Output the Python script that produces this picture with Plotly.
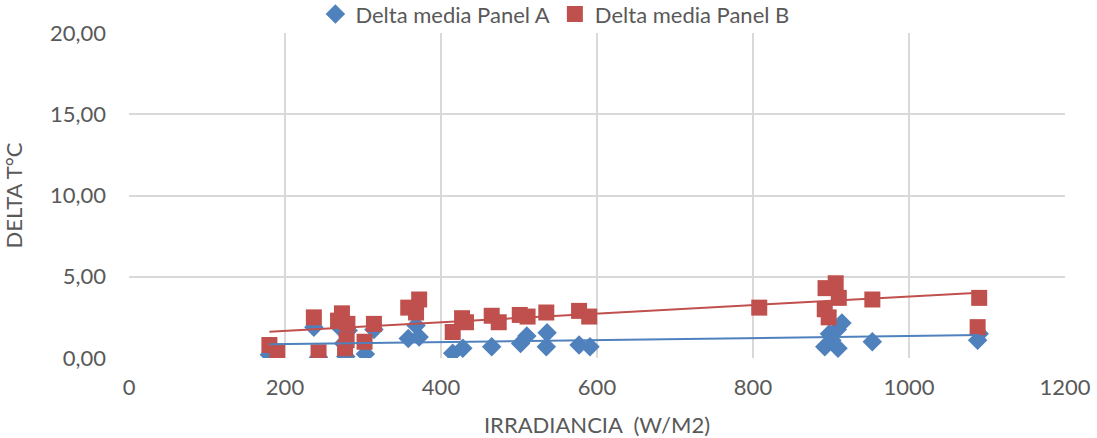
import plotly.graph_objects as go

# Irradiance (W/m2) and mean temperature delta (°C) for each panel
irr_a = [180, 237, 243, 270, 275, 278, 281, 303, 314, 358, 368, 372, 415, 428, 465,
         502, 510, 535, 536, 577, 591, 892, 901, 909, 908, 914, 898, 953, 1088, 1090]
delta_a = [0.20, 1.90, 0.05, 1.90, 0.90, 0.10, 1.70, 0.25, 1.75, 1.20, 2.00, 1.30, 0.30, 0.60, 0.70,
           0.90, 1.35, 0.70, 1.55, 0.80, 0.70, 0.70, 1.10, 0.60, 1.75, 2.15, 1.50, 1.00, 1.10, 1.50]

irr_b = [180, 190, 237, 243, 268, 273, 277, 279, 280, 302, 314, 358, 368, 372, 415, 427, 432,
         465, 474, 501, 511, 535, 577, 590, 808, 892, 893, 897, 906, 910, 953, 1088, 1090]
delta_b = [0.80, 0.40, 2.50, 0.35, 2.30, 2.75, 0.60, 1.10, 2.10, 1.00, 2.10, 3.10, 2.80, 3.60, 1.60, 2.45, 2.20,
           2.60, 2.20, 2.65, 2.55, 2.80, 2.90, 2.55, 3.10, 3.00, 4.30, 2.50, 4.60, 3.70, 3.60, 1.90, 3.70]

# Linear trendlines (start / end of the fitted range)
trend_x = [180, 1090]
trend_a = [0.84, 1.41]
trend_b = [1.62, 4.02]

series_names = ["Delta media Panel A", "Delta media Panel B"]
x_ticks = [0, 200, 400, 600, 800, 1000, 1200]
y_ticks = [0, 5, 10, 15, 20]

BLUE = "#4F81BD"
RED = "#C0504D"
TEXT = "#595959"
GRID = "#D9D9D9"
FONT = "Lato"
FS = 22

fig = go.Figure()

fig.add_trace(go.Scatter(
    x=irr_a, y=delta_a, mode="markers", name=series_names[0],
    marker=dict(symbol="diamond", size=15, color=BLUE, line=dict(width=0)),
))
fig.add_trace(go.Scatter(
    x=irr_b, y=delta_b, mode="markers", name=series_names[1],
    marker=dict(symbol="square", size=16, color=RED, line=dict(width=0)),
))

for ty, col in [(trend_a, BLUE), (trend_b, RED)]:
    fig.add_trace(go.Scatter(
        x=trend_x, y=ty, mode="lines", showlegend=False, hoverinfo="skip",
        line=dict(color=col, width=2),
    ))

fig.update_layout(
    width=1097, height=438,
    margin=dict(l=129, r=32, t=33, b=80, autoexpand=False),
    paper_bgcolor="white", plot_bgcolor="white",
    separators=",.",
    font=dict(family=FONT, size=FS, color=TEXT),
    legend=dict(
        orientation="h", x=0.455, xanchor="center", y=1.058, yanchor="middle",
        font=dict(family=FONT, size=FS, color=TEXT),
        itemwidth=30, bgcolor="rgba(0,0,0,0)",
    ),
    xaxis=dict(
        range=[0, 1200], tickvals=x_ticks, tickformat="d",
        showgrid=True, gridcolor=GRID, gridwidth=2,
        zeroline=False, showline=False, ticks="", ticklabelstandoff=14,
        tickfont=dict(family=FONT, size=FS, color=TEXT),
        title=dict(text="IRRADIANCIA  (W/M2)", font=dict(family=FONT, size=FS, color=TEXT), standoff=22),
    ),
    yaxis=dict(
        range=[0, 20], tickvals=y_ticks, tickformat=".2f",
        showgrid=True, gridcolor=GRID, gridwidth=2,
        zeroline=False, showline=False, ticks="", ticklabelstandoff=22,
        tickfont=dict(family=FONT, size=FS, color=TEXT),
        title=dict(text="DELTA T°C", font=dict(family=FONT, size=FS, color=TEXT), standoff=21),
    ),
)

fig.write_html("out.html")
